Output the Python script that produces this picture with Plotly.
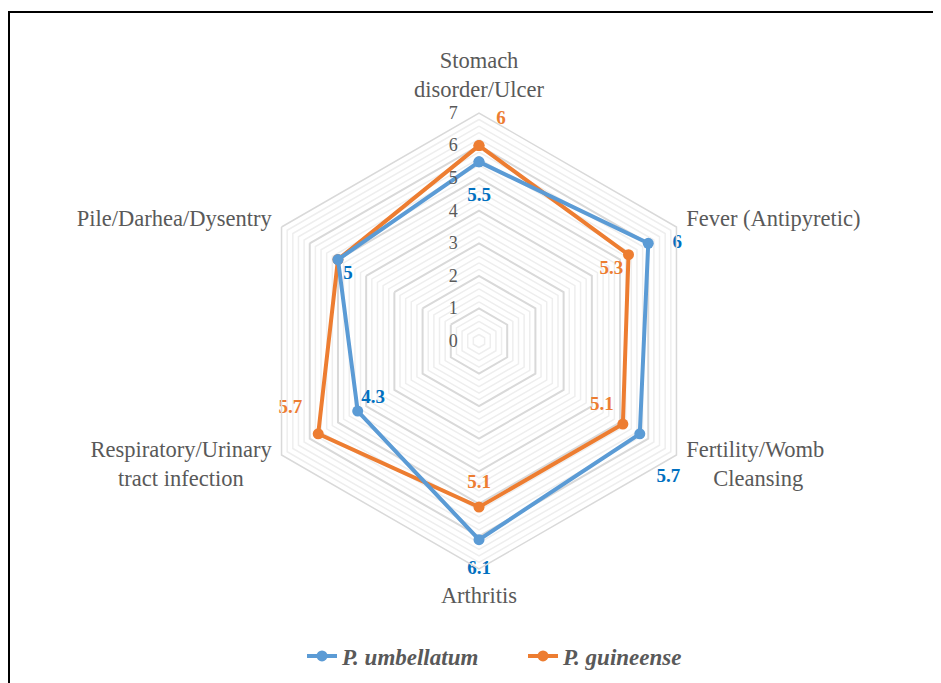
import numpy as np
import plotly.graph_objects as go

categories = ["Stomach disorder/Ulcer", "Fever (Antipyretic)", "Fertility/Womb Cleansing",
              "Arthritis", "Respiratory/Urinary tract infection", "Pile/Darhea/Dysentry"]
umbellatum = [5.5, 6, 5.7, 6.1, 4.3, 5]
guineense = [6, 5.3, 5.1, 5.1, 5.7, 5]
umb_labels = ["5.5", "6", "5.7", "6.1", "4.3", "5"]
gui_labels = ["6", "5.3", "5.1", "5.1", "5.7", ""]
radial_ticks = [0, 1, 2, 3, 4, 5, 6, 7]

NB = "\u00a0"
FS = "\u2007"
# displayed (wrapped, visually centred) category labels
cat_display = {
    "Stomach disorder/Ulcer": "Stomach<br>disorder/Ulcer",
    "Fever (Antipyretic)": "Fever (Antipyretic)",
    "Fertility/Womb Cleansing": "Fertility/Womb<br>" + NB * 4 + "\u2009Cleansing<br>" + NB + "<br>" + NB,
    "Arthritis": "Arthritis",
    "Respiratory/Urinary tract infection": "Respiratory/Urinary<br>tract infection" + NB * 5 + "<br>" + NB + "<br>" + NB,
    "Pile/Darhea/Dysentry": "Pile/Darhea/Dysentry",
}

# label placement styling (position, invisible offset marker size, left padding)
umb_pos = ["bottom center", "middle right", "bottom center", "bottom center", "top right", "bottom right"]
umb_off = [38, 37, 53, 30, 4, 7]
umb_pad = [0, 0, 6, 0, 0, 0]
gui_pos = ["top right", "bottom left", "top left", "top center", "top left", "top right"]
gui_off = [26, 7, 13, 21, 24, 4]

BLUE = "#5B9BD5"
ORANGE = "#ED7D31"
BLUE_TXT = "#0070C0"
GREY = "#595959"
FONT = "Liberation Serif"

# page body has an 8px margin; figure coordinates below are relative to the figure
W, H = 933, 675
cx, cy, R = 471, 333, 228

fig = go.Figure()

# minor grid hexagons
for v in np.arange(0.2, 7.0, 0.2):
    if abs(v - round(v)) < 1e-6:
        continue
    fig.add_trace(go.Scatterpolar(
        r=[v] * (len(categories) + 1), theta=categories + categories[:1],
        mode="lines", line=dict(color="#eeeeee", width=1.5),
        hoverinfo="skip", showlegend=False))


def closed(a):
    return list(a) + [a[0]]


fig.add_trace(go.Scatterpolar(
    r=closed(guineense), theta=closed(categories), name="<i>P. guineense</i>",
    mode="lines+markers",
    line=dict(color=ORANGE, width=4), marker=dict(size=11, color=ORANGE),
    legendrank=2))

fig.add_trace(go.Scatterpolar(
    r=closed(umbellatum), theta=closed(categories), name="<i>P. umbellatum</i>",
    mode="lines+markers",
    line=dict(color=BLUE, width=4), marker=dict(size=11, color=BLUE),
    legendrank=1))

# data labels
fig.add_trace(go.Scatterpolar(
    r=guineense, theta=categories, mode="markers+text", text=gui_labels,
    textposition=gui_pos, marker=dict(size=gui_off, opacity=0),
    textfont=dict(family=FONT, size=19, color=ORANGE, weight="bold"),
    hoverinfo="skip", showlegend=False))
fig.add_trace(go.Scatterpolar(
    r=umbellatum, theta=categories, mode="markers+text",
    text=[FS * p + t for p, t in zip(umb_pad, umb_labels)],
    textposition=umb_pos, marker=dict(size=umb_off, opacity=0),
    textfont=dict(family=FONT, size=19, color=BLUE_TXT, weight="bold"),
    hoverinfo="skip", showlegend=False))

fig.update_layout(
    width=W, height=H,
    margin=dict(l=0, r=0, t=0, b=0),
    paper_bgcolor="white",
    font=dict(family=FONT, color=GREY),
    polar=dict(
        domain=dict(x=[(cx - R) / W, (cx + R) / W], y=[(H - cy - R) / H, (H - cy + R) / H]),
        gridshape="linear",
        bgcolor="white",
        radialaxis=dict(range=[0, 7], tickvals=radial_ticks,
                        ticktext=[str(t) + "\u2002\u2002" for t in radial_ticks],
                        angle=90, tickangle=90, side="counterclockwise", showline=False, ticks="",
                        gridcolor="#d9d9d9", gridwidth=1.5,
                        tickfont=dict(family=FONT, size=18, color=GREY)),
        angularaxis=dict(rotation=90, direction="clockwise", showgrid=False, showline=True,
                         linecolor="#d9d9d9", linewidth=1.5,
                         ticks="outside", ticklen=6, tickcolor="rgba(0,0,0,0)",
                         tickmode="array", tickvals=categories,
                         ticktext=[cat_display[c] for c in categories],
                         tickfont=dict(family=FONT, size=22.5, color=GREY)),
    ),
    legend=dict(orientation="h", x=515 / W, xanchor="center", y=(H - 648) / H, yanchor="middle",
                font=dict(family=FONT, size=23, color=GREY, weight="bold"),
                entrywidth=176, entrywidthmode="pixels", traceorder="normal"),
    shapes=[dict(type="rect", xref="paper", yref="paper",
                 x0=1 / W, x1=1.05, y0=-0.05, y1=(H - 4) / H,
                 line=dict(color="black", width=2), fillcolor="rgba(0,0,0,0)")],
)

fig.write_html("out.html")
